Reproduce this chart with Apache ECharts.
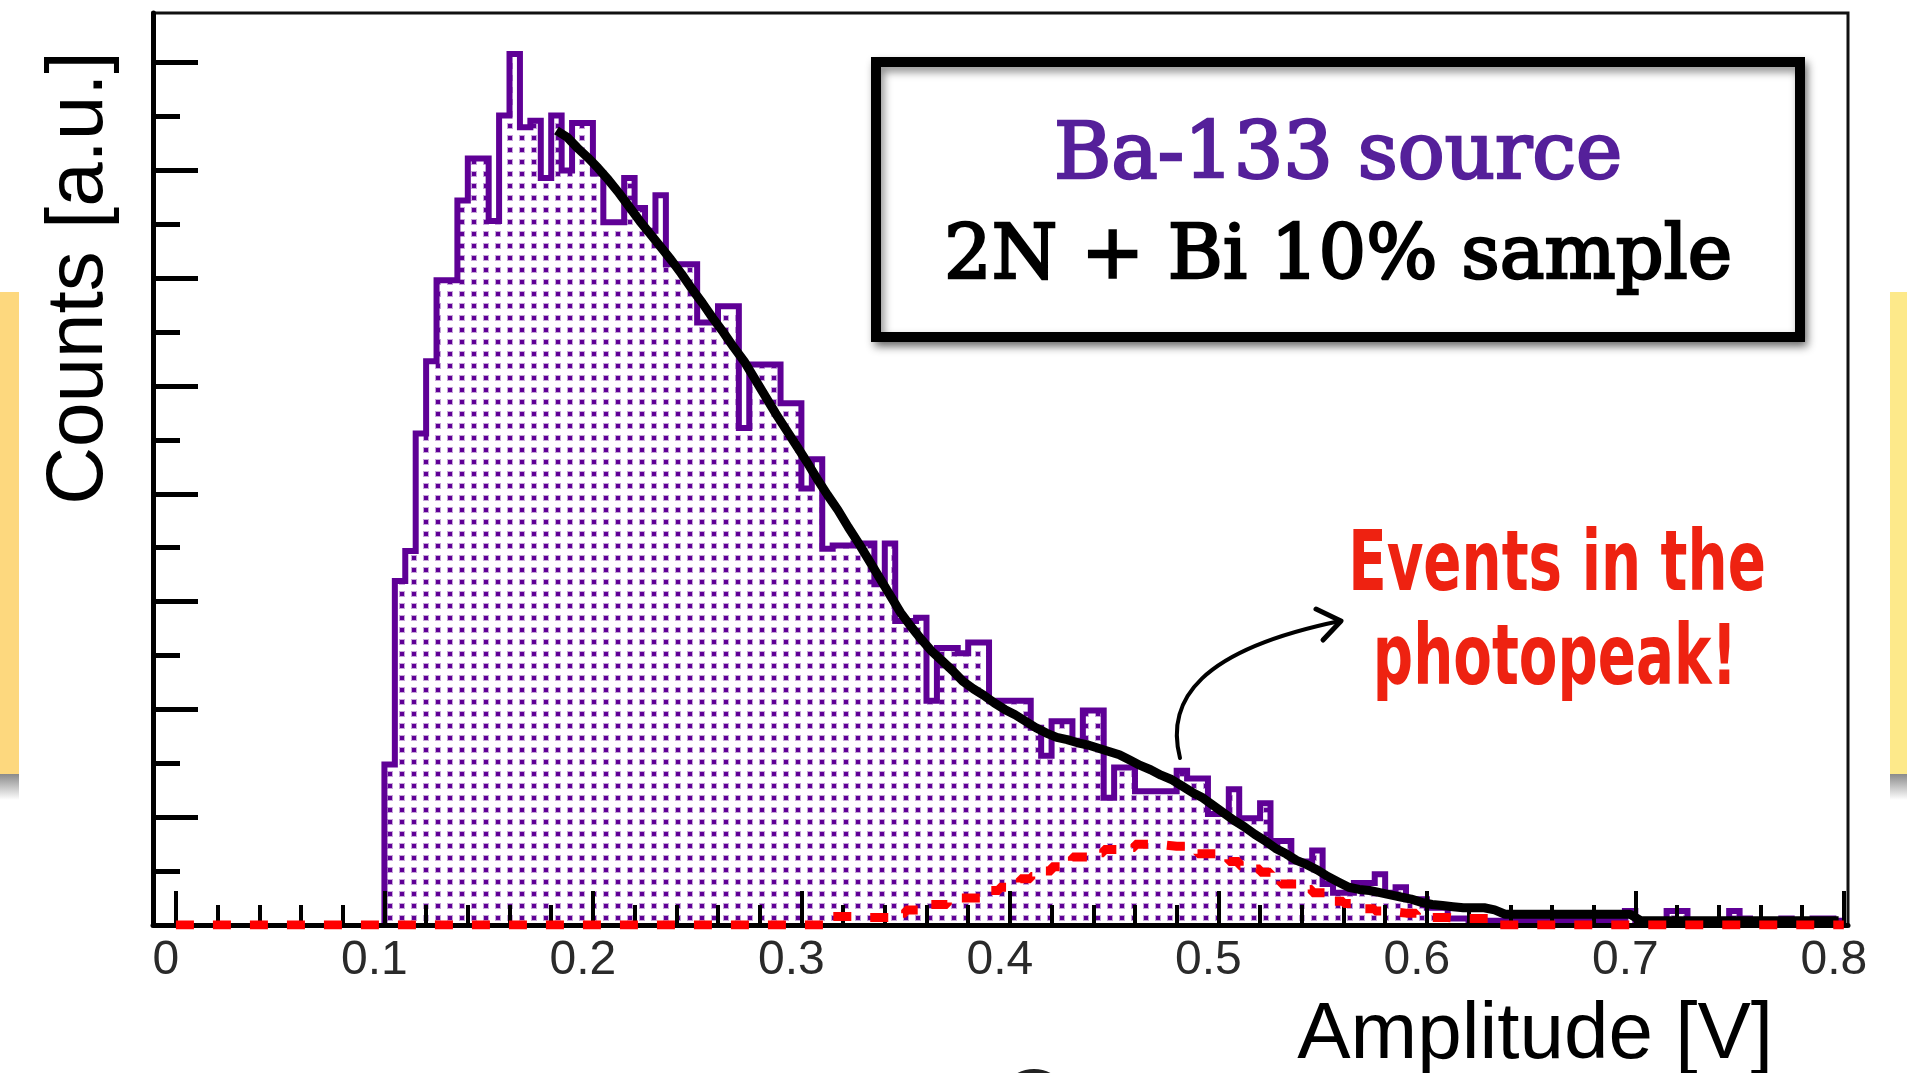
<!DOCTYPE html>
<html>
<head>
<meta charset="utf-8">
<script src="https://cdn.jsdelivr.net/npm/echarts@6/dist/echarts.min.js"></script>
<style>
html,body{margin:0;padding:0;background:#fff}
#main{width:1907px;height:1073px}
</style>
</head>
<body>
<div id="main"></div>
<script>
// histogram bins: 0.005 V wide, 160 bins from 0 to 0.8
var binWidth = 0.005;

// Ba-133 spectrum (purple, dotted fill)
var purpleCounts = [
  0,0,0,0,0,0,0,0,0,0,
  0,0,0,0,0,0,0,0,0,0,
  149,319,347,456,523,598,598,672,711,711,
  653,751,808,740,746,693,751,700,744,744,
  697,652,652,693,665,644,677,613,613,613,
  559,559,574,574,461,520,520,520,484,484,
  405,432,349,352,352,354,354,316,354,282,
  282,285,208,257,257,252,262,262,208,208,
  208,208,183,157,189,189,171,199,199,118,
  146,146,124,124,124,124,143,136,136,103,
  103,126,99,99,113,78,78,59,59,69,
  38,30,30,39,39,47,30,35,24,24,
  16,16,6,6,4,4,4,4,4,4,
  4,4,4,4,4,4,4,4,4,13,
  4,4,4,13,13,4,4,4,4,13,
  6,4,4,4,6,4,4,6,6,4
];

// fit curve (black)
var fitCounts = [
  null,null,null,null,null,null,null,null,null,null,
  null,null,null,null,null,null,null,null,null,null,
  null,null,null,null,null,null,null,null,null,null,
  null,null,null,null,null,null,737,731,721,712,
  702,691,679,666,653,641,629,617,604,590,
  577,563,550,536,523,507,491,475,460,445,
  430,414,399,385,369,354,338,322,306,290,
  277,265,254,245,236,226,219,213,206,200,
  195,189,183,178,174,172,169,167,164,161,
  158,153,148,144,139,135,129,123,118,111,
  104,97,91,84,78,71,66,60,56,51,
  45,40,35,33,32,30,28,26,24,21,
  19,18,17,16,16,16,14,10,10,10,
  10,10,10,10,10,10,10,10,10,10,
  4,4,4,4,4,4,4,4,4,4,
  4,4,4,4,4,4,4,4,4,4
];

// photopeak events (red dashed)
var photopeakCounts = [
  0,0,0,0,0,0,0,0,0,0,
  0,0,0,0,0,0,0,0,0,0,
  0,0,0,0,0,0,0,0,0,0,
  0,0,0,0,0,0,0,0,0,0,
  0,0,0,0,0,0,0,0,0,0,
  0,0,0,0,0,0,0,0,0,0,
  0,0,0,8,8,7,7,7,7,11,
  14,14,19,19,22,25,25,25,32,35,
  39,43,45,50,54,57,63,63,67,70,
  70,72,75,75,74,73,73,72,66,66,
  66,59,55,52,49,45,38,38,33,30,
  30,22,20,19,15,13,12,11,11,9,
  7,7,6,6,6,6,4,0,0,0,
  0,0,0,0,0,0,0,0,0,0,
  0,0,0,0,0,0,0,0,0,0,
  0,0,0,0,0,0,0,0,0,0
];

var xMajorTicks = [0, 0.1, 0.2, 0.3, 0.4, 0.5, 0.6, 0.7, 0.8];
var xMinorTicks = [0.02, 0.04, 0.06, 0.08, 0.12, 0.14, 0.16, 0.18, 0.22, 0.24, 0.26, 0.28,
  0.32, 0.34, 0.36, 0.38, 0.42, 0.44, 0.46, 0.48, 0.52, 0.54, 0.56, 0.58,
  0.62, 0.64, 0.66, 0.68, 0.72, 0.74, 0.76, 0.78];
var yMajorTicks = [0, 100, 200, 300, 400, 500, 600, 700, 800];
var yMinorTicks = [50, 150, 250, 350, 450, 550, 650, 750];

var xMin = -0.011, xMax = 0.802;
var yMax = 846;

function stepPoints(counts, first) {
  var pts = [[first * binWidth, 0]];
  for (var i = first; i < counts.length; i++) {
    var l = +(i * binWidth).toFixed(4);
    var r = +((i + 1) * binWidth).toFixed(4);
    pts.push([l, counts[i]], [r, counts[i]]);
  }
  return pts;
}

function curvePoints(counts) {
  var pts = [];
  counts.forEach(function (v, i) {
    if (v !== null) pts.push([(i + 0.5) * binWidth, v]);
  });
  return pts;
}

// dotted fill like the ROOT pattern
var dots = document.createElement('canvas');
dots.width = 12;
dots.height = 12;
var dctx = dots.getContext('2d');
dctx.fillStyle = 'rgba(95,0,150,0.35)';
dctx.fillRect(3, 3, 6, 6);
dctx.fillStyle = '#5f0096';
dctx.fillRect(4, 4, 4, 4);

var chart = echarts.init(document.getElementById('main'));

function hiddenAxis(extra) {
  return Object.assign({
    type: 'value',
    axisLine: { show: false, onZero: false },
    axisLabel: { show: false },
    splitLine: { show: false },
    z: 2
  }, extra);
}

var redFont = '"Liberation Sans Narrow", "DejaVu Sans Condensed", "DejaVu Sans", sans-serif';

chart.setOption({
  animation: false,
  backgroundColor: '#fff',
  grid: {
    left: 153, right: 59, top: 13, bottom: 148,
    show: true, borderColor: '#111', borderWidth: 3,
    backgroundColor: 'transparent'
  },
  xAxis: [{
    type: 'value',
    min: xMin, max: xMax,
    position: 'bottom',
    axisLine: { onZero: false, lineStyle: { color: '#000', width: 5 } },
    axisTick: { inside: true, length: 34, customValues: xMajorTicks, lineStyle: { color: '#000', width: 4 } },
    axisLabel: {
      customValues: xMajorTicks,
      margin: 12,
      fontSize: 48,
      fontFamily: '"Liberation Sans", Arial, sans-serif',
      color: '#2a2a2a',
      padding: [0, 20, 0, 0]
    },
    splitLine: { show: false },
    z: 2
  }, hiddenAxis({
    min: xMin, max: xMax,
    position: 'bottom',
    axisTick: { inside: true, length: 20, customValues: xMinorTicks, lineStyle: { color: '#000', width: 4 } }
  })],
  yAxis: [{
    type: 'value',
    min: 0, max: yMax,
    position: 'left',
    axisLine: { show: true, onZero: false, lineStyle: { color: '#000', width: 5 } },
    axisTick: { inside: true, length: 45, customValues: yMajorTicks, lineStyle: { color: '#000', width: 5 } },
    axisLabel: { show: false },
    splitLine: { show: false },
    z: 2
  }, hiddenAxis({
    min: 0, max: yMax,
    position: 'left',
    axisTick: { inside: true, length: 27, customValues: yMinorTicks, lineStyle: { color: '#000', width: 5 } }
  })],
  series: [{
    name: 'Ba-133',
    type: 'line',
    data: stepPoints(purpleCounts, 20),
    showSymbol: false,
    lineStyle: { color: '#5f0096', width: 6, join: 'miter' },
    areaStyle: { color: { image: dots, repeat: 'repeat' }, opacity: 1 },
    z: 1
  }, {
    name: 'fit',
    type: 'line',
    data: curvePoints(fitCounts),
    showSymbol: false,
    lineStyle: { color: '#000', width: 9 },
    z: 3
  }, {
    name: 'photopeak',
    type: 'line',
    data: stepPoints(photopeakCounts, 0),
    showSymbol: false,
    lineStyle: { color: '#ff0000', width: 9, type: [18, 19], cap: 'butt' },
    z: 4
  }],
  graphic: [
    // yellow strips at the slide edges
    { type: 'rect', shape: { x: 0, y: 292, width: 19, height: 482 }, style: { fill: '#fdd87e' }, z: 10 },
    { type: 'rect', shape: { x: 0, y: 774, width: 19, height: 26 },
      style: { fill: { type: 'linear', x: 0, y: 0, x2: 0, y2: 1,
        colorStops: [{ offset: 0, color: '#8a8a8a' }, { offset: 1, color: '#ffffff' }] } }, z: 10 },
    { type: 'rect', shape: { x: 1890, y: 292, width: 17, height: 482 }, style: { fill: '#fde98a' }, z: 10 },
    { type: 'rect', shape: { x: 1890, y: 774, width: 17, height: 26 },
      style: { fill: { type: 'linear', x: 0, y: 0, x2: 0, y2: 1,
        colorStops: [{ offset: 0, color: '#8a8a8a' }, { offset: 1, color: '#ffffff' }] } }, z: 10 },
    // legend box
    { type: 'rect', shape: { x: 876, y: 62, width: 924, height: 275 },
      style: { fill: '#fff', stroke: '#000', lineWidth: 10,
        shadowBlur: 8, shadowOffsetX: 3, shadowOffsetY: 5, shadowColor: 'rgba(0,0,0,0.45)' }, z: 20 },
    { type: 'text', x: 1338, y: 158, z: 21,
      style: { text: 'Ba-133 source', fill: '#55209a', stroke: '#55209a', lineWidth: 2.5,
        fontSize: 78, fontFamily: '"DejaVu Serif", serif', align: 'center', verticalAlign: 'middle' } },
    { type: 'text', x: 1338, y: 259, z: 21,
      style: { text: '2N + Bi 10% sample', fill: '#000', stroke: '#000', lineWidth: 2.5,
        fontSize: 75, fontFamily: '"DejaVu Serif", serif', align: 'center', verticalAlign: 'middle' } },
    // annotation
    { type: 'text', x: 1557, y: 568, scaleX: 0.745, z: 21,
      style: { text: 'Events in the', fill: '#ee2211', fontSize: 84, fontWeight: 'bold',
        fontFamily: redFont, align: 'center', verticalAlign: 'middle' } },
    { type: 'text', x: 1555, y: 662, scaleX: 0.745, z: 21,
      style: { text: 'photopeak!', fill: '#ee2211', fontSize: 84, fontWeight: 'bold',
        fontFamily: redFont, align: 'center', verticalAlign: 'middle' } },
    { type: 'bezierCurve', z: 21,
      shape: { x1: 1180, y1: 758, cpx1: 1165, cpy1: 700, cpx2: 1200, cpy2: 650, x2: 1340, y2: 621 },
      style: { stroke: '#000', lineWidth: 4, fill: null, lineCap: 'round' } },
    { type: 'polyline', z: 21,
      shape: { points: [[1316, 609], [1341, 621], [1323, 640]] },
      style: { stroke: '#000', lineWidth: 5, fill: null, lineCap: 'round', lineJoin: 'round' } },
    // axis titles
    { type: 'text', x: 1773, y: 1036, z: 21,
      style: { text: 'Amplitude [V]', fill: '#000', fontSize: 80,
        fontFamily: '"Liberation Sans", Arial, sans-serif', align: 'right', verticalAlign: 'middle' } },
    { type: 'text', x: 80, y: 278, rotation: Math.PI / 2, z: 21,
      style: { text: 'Counts [a.u.]', fill: '#000', fontSize: 80,
        fontFamily: '"Liberation Sans", Arial, sans-serif', align: 'center', verticalAlign: 'middle' } },
    // edge of a shape cut off at the bottom of the slide
    { type: 'circle', shape: { cx: 1034, cy: 1104, r: 33 }, z: 21,
      style: { fill: null, stroke: '#222', lineWidth: 4 } }
  ]
});
</script>
</body>
</html>
